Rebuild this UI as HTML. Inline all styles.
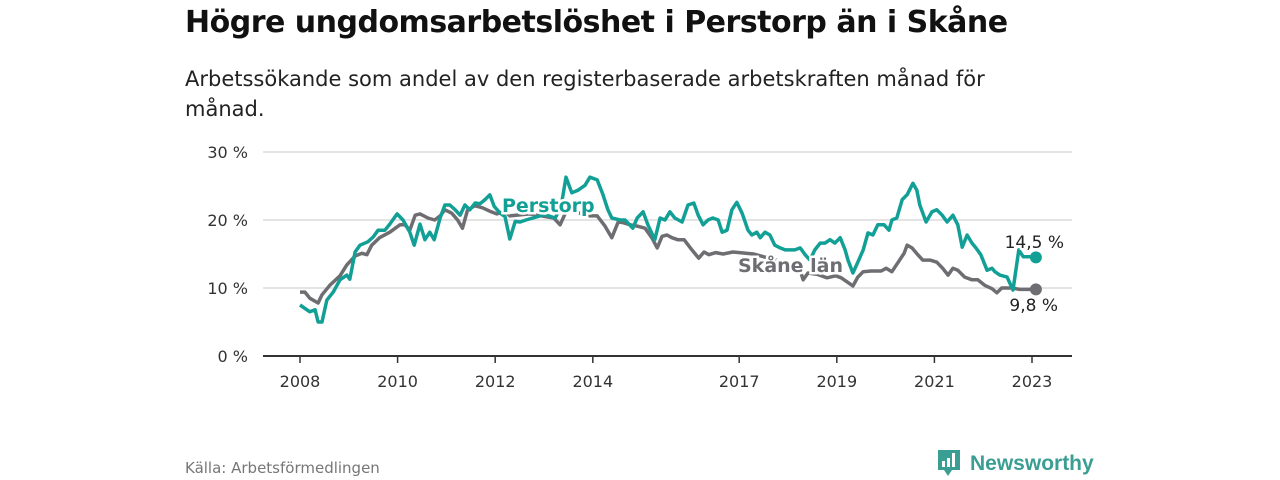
<!DOCTYPE html>
<html><head><meta charset="utf-8"><style>
body{margin:0;width:1280px;height:480px;background:#fff;font-family:"Liberation Sans","DejaVu Sans",sans-serif;overflow:hidden;position:relative}
#title{position:absolute;left:185px;top:5px;font-size:30px;font-weight:bold;color:#111;margin:0;font-family:"DejaVu Sans","Liberation Sans",sans-serif;letter-spacing:-0.5px}
#sub{position:absolute;left:185px;top:64px;width:850px;font-size:21px;line-height:30px;color:#222;font-family:"DejaVu Sans","Liberation Sans",sans-serif}
#src{position:absolute;left:185px;top:459px;font-size:15px;color:#777;font-family:"DejaVu Sans","Liberation Sans",sans-serif}
svg text{font-family:"DejaVu Sans","Liberation Sans",sans-serif}
</style></head><body>
<h1 id="title">Högre ungdomsarbetslöshet i Perstorp än i Skåne</h1>
<div id="sub">Arbetssökande som andel av den registerbaserade arbetskraften månad för månad.</div>
<div id="src">Källa: Arbetsförmedlingen</div>
<svg id="logo" style="position:absolute;left:936px;top:448px" width="170" height="32">
<path d="M2 2h22v20h-8l-4 6-4-6H2z" fill="#3a9e92"/>
<rect x="6" y="13" width="3" height="6" fill="#fff"/><rect x="11" y="10" width="3" height="9" fill="#fff"/><rect x="16" y="5" width="3" height="14" fill="#fff"/>
<text x="34" y="22" font-size="21" fill="#3a9e92" font-weight="bold" style="font-family:'Liberation Sans',sans-serif">Newsworthy</text>
</svg>
<svg id="chart" width="1280" height="480" style="position:absolute;left:0;top:0"></svg>
<script>
const yTicks=[0,10,20,30];
const xTicks=[2008,2010,2012,2014,2017,2019,2021,2023];
const perDates=[2008.00,2008.20,2008.31,2008.37,2008.45,2008.55,2008.68,2008.82,2008.96,2009.02,2009.13,2009.23,2009.39,2009.50,2009.60,2009.74,2009.84,2009.99,2010.11,2010.25,2010.34,2010.46,2010.56,2010.66,2010.75,2010.87,2010.97,2011.07,2011.18,2011.28,2011.38,2011.48,2011.59,2011.69,2011.79,2011.89,2011.98,2012.10,2012.20,2012.30,2012.41,2012.51,2012.63,2012.82,2013.02,2013.23,2013.35,2013.45,2013.57,2013.70,2013.84,2013.94,2014.09,2014.21,2014.31,2014.39,2014.56,2014.66,2014.82,2014.91,2015.03,2015.13,2015.27,2015.38,2015.48,2015.58,2015.68,2015.83,2015.95,2016.07,2016.16,2016.26,2016.36,2016.46,2016.57,2016.65,2016.75,2016.85,2016.95,2017.06,2017.18,2017.26,2017.36,2017.43,2017.53,2017.63,2017.73,2017.84,2017.94,2018.14,2018.25,2018.35,2018.45,2018.55,2018.66,2018.76,2018.86,2018.96,2019.07,2019.17,2019.23,2019.33,2019.43,2019.54,2019.64,2019.74,2019.84,2019.97,2020.07,2020.13,2020.23,2020.34,2020.44,2020.56,2020.64,2020.70,2020.83,2020.95,2021.05,2021.16,2021.26,2021.38,2021.48,2021.57,2021.67,2021.77,2021.85,2021.95,2022.08,2022.18,2022.24,2022.34,2022.49,2022.61,2022.73,2022.82,2022.94,2023.08];
const perValues=[7.5,6.5,6.8,5.0,5.0,8.2,9.4,11.2,11.9,11.3,15.3,16.3,16.8,17.5,18.5,18.5,19.4,20.9,20.0,18.2,16.3,19.4,17.1,18.2,17.1,20.3,22.2,22.2,21.5,20.7,22.2,21.5,22.5,22.4,23.0,23.7,22.0,21.0,20.5,17.2,19.8,19.7,20.0,20.4,20.8,20.3,22.0,26.3,24.0,24.4,25.1,26.3,25.9,23.7,21.5,20.3,20.0,20.0,18.8,20.3,21.2,19.3,17.1,20.3,20.0,21.2,20.3,19.7,22.2,22.5,20.7,19.3,20.0,20.3,20.0,18.2,18.5,21.5,22.6,21.0,18.5,17.8,18.2,17.4,18.2,17.8,16.3,15.9,15.6,15.6,15.9,14.9,14.1,15.6,16.6,16.6,17.1,16.6,17.4,15.6,14.1,12.2,13.8,15.6,18.1,17.8,19.3,19.3,18.5,20.0,20.3,23.0,23.7,25.4,24.4,22.2,19.7,21.2,21.5,20.7,19.7,20.7,19.3,16.0,17.8,16.6,15.9,14.9,12.6,12.9,12.4,11.9,11.6,9.7,15.6,14.6,14.6,14.5];
const skaDates=[2008.00,2008.10,2008.20,2008.37,2008.45,2008.61,2008.82,2008.96,2009.13,2009.27,2009.37,2009.47,2009.63,2009.84,2010.05,2010.15,2010.25,2010.36,2010.46,2010.62,2010.76,2010.87,2010.97,2011.11,2011.23,2011.33,2011.43,2011.58,2011.74,2011.89,2012.03,2012.20,2012.30,2012.71,2013.20,2013.33,2013.47,2013.94,2014.09,2014.25,2014.39,2014.52,2014.62,2014.77,2014.91,2015.07,2015.21,2015.32,2015.42,2015.52,2015.62,2015.74,2015.87,2016.03,2016.17,2016.28,2016.38,2016.52,2016.67,2016.87,2017.30,2017.80,2018.20,2018.25,2018.31,2018.41,2018.60,2018.80,2018.98,2019.09,2019.25,2019.33,2019.43,2019.54,2019.70,2019.91,2020.01,2020.13,2020.25,2020.38,2020.44,2020.54,2020.66,2020.76,2020.91,2021.05,2021.17,2021.28,2021.38,2021.48,2021.62,2021.77,2021.89,2022.03,2022.18,2022.28,2022.38,2022.59,2022.75,2022.91,2023.08];
const skaValues=[9.4,9.4,8.5,7.8,9.0,10.4,11.8,13.4,14.7,15.1,14.9,16.3,17.4,18.2,19.3,19.3,18.5,20.7,20.9,20.3,20.0,20.6,21.5,21.0,20.0,18.8,21.4,22.1,21.8,21.3,20.9,21.3,20.6,20.9,20.3,19.3,21.5,20.6,20.6,19.1,17.4,19.7,19.6,19.3,19.1,18.8,17.4,15.9,17.6,17.8,17.4,17.1,17.1,15.6,14.4,15.3,14.9,15.2,15.0,15.3,15.0,14.0,12.8,12.6,11.2,12.2,12.0,11.5,11.8,11.5,10.7,10.3,11.6,12.4,12.5,12.5,12.9,12.4,13.7,15.1,16.3,15.9,14.9,14.1,14.1,13.8,12.9,11.9,12.9,12.6,11.6,11.2,11.2,10.4,9.9,9.3,10.0,10.0,9.8,9.8,9.8];
const NS='http://www.w3.org/2000/svg';
const svg=document.getElementById('chart');
const X=d=>300+(d-2008)*48.8;
const Y=v=>356-v*6.8;
function mk(t,a){const e=document.createElementNS(NS,t);for(const k in a)e.setAttribute(k,a[k]);svg.appendChild(e);return e;}
yTicks.forEach(v=>{
 const l=mk('line',{x1:263,x2:1072,y1:Y(v),y2:Y(v),stroke:v===0?'#333':'#d4d4d4','stroke-width':v===0?2:1.3});
 
 
 const t=mk('text',{x:248,y:Y(v)+6,'text-anchor':'end','font-size':16,fill:'#333'});t.textContent=v+' %';
 
 
});
xTicks.forEach(d=>{
 const l=mk('line',{x1:X(d),x2:X(d),y1:356,y2:363,stroke:'#333','stroke-width':1.5});
 
 
 const t=mk('text',{x:X(d),y:387,'text-anchor':'middle','font-size':16,fill:'#333'});t.textContent=d;
 
 
});
function line(ds,vs,col,name){
 const p=mk('path',{d:ds.map((d,i)=>(i?'L':'M')+X(d).toFixed(1)+' '+Y(vs[i]).toFixed(1)).join(''),fill:'none',stroke:col,'stroke-width':3.5,'stroke-linejoin':'round'});
 
 
 const n=ds.length-1;
 const c=mk('circle',{cx:X(ds[n]),cy:Y(vs[n]),r:6,fill:col});
 
 
}
line(skaDates,skaValues,'#6e6e72','skane');
line(perDates,perValues,'#12a096','perstorp');
function lab(x,y,txt,col,name,anchor,bold){
 const t=mk('text',{x:x,y:y,'font-size':bold?19:17,'font-weight':bold?'bold':'normal',fill:col,stroke:'#fff','stroke-width':bold?5:4,'paint-order':'stroke','text-anchor':anchor});
 t.textContent=txt;
 
 
}
lab(502,212,'Perstorp','#12a096','perstorp-label','start',true);
lab(738,272,'Skåne län','#6e6e72','skane-label','start',true);
lab(1064,248,'14,5 %','#222','perstorp-end-value','end',false);
lab(1058,311,'9,8 %','#222','skane-end-value','end',false);
</script>
</body></html>
